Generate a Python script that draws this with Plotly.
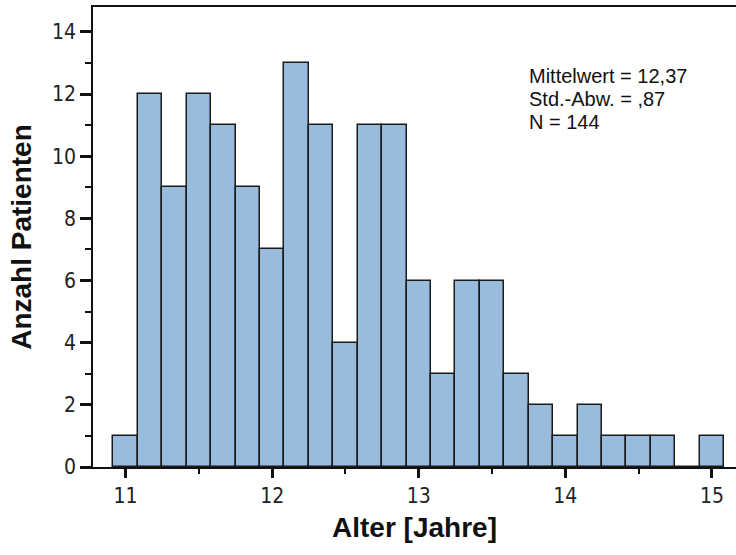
import plotly.graph_objects as go

# Data
bin_start = 11.0          # centre of first bin (years)
bin_width = 1.0 / 6.0     # two-month bins
counts = [1, 12, 9, 12, 11, 9, 7, 13, 11, 4, 11, 11, 6, 3, 6, 6, 3, 2, 1, 2, 1, 1, 1, 0, 1]
x_tick_vals = [11, 12, 13, 14, 15]
y_tick_vals = [0, 2, 4, 6, 8, 10, 12, 14]
stats_text = ["Mittelwert = 12,37", "Std.-Abw. = ,87", "N = 144"]

centers = [bin_start + i * bin_width for i in range(len(counts))]

fig = go.Figure()
fig.add_trace(go.Bar(
    x=centers, y=counts, width=bin_width,
    marker=dict(color="#99BCDD", line=dict(color="#1a1a1a", width=1.5)),
    hoverinfo="x+y", showlegend=False,
))

font_family = "Liberation Sans, Arial, sans-serif"
narrow_family = "Liberation Sans Narrow, DejaVu Sans Condensed, Liberation Sans, sans-serif"

ann = []
for i, line in enumerate(stats_text):
    ann.append(dict(
        text=line,
        xref="paper", yref="paper", x=(527 - 93) / 643, y=1 - (63 + 23 * i - 7) / 460,
        xanchor="left", yanchor="top", align="left", showarrow=False,
        font=dict(size=20, color="#111", family=font_family),
    ))

fig.update_layout(
    width=736, height=555,
    margin=dict(l=93, r=0, t=7, b=88),
    paper_bgcolor="white", plot_bgcolor="white",
    bargap=0,
    font=dict(family=font_family, color="#222222", size=16),
    xaxis=dict(
        range=[10.778, 15.164],
        tickvals=x_tick_vals,
        ticks="outside", ticklen=9, tickwidth=2.5, tickcolor="#111",
        minor=dict(tickvals=[11.5, 12.5, 13.5, 14.5], ticks="outside",
                   ticklen=5, tickwidth=1.5, tickcolor="#111"),
        showline=True, linecolor="#111", linewidth=1.5, mirror=True,
        showgrid=False, zeroline=False,
        tickfont=dict(size=21, family=narrow_family, color="#222"),
        title=dict(text="<b>Alter [Jahre]</b>", font=dict(size=28, color="#111", family=font_family), standoff=10),
    ),
    yaxis=dict(
        range=[0, 14.8],
        tickvals=y_tick_vals,
        ticks="outside", ticklen=11, tickwidth=2.5, tickcolor="#111",
        minor=dict(dtick=1, tick0=0, ticks="outside", ticklen=6, tickwidth=1.5, tickcolor="#111"),
        showline=True, linecolor="#111", linewidth=1.5,
        showgrid=False, zeroline=False,
        tickfont=dict(size=21, family=narrow_family, color="#222"),
        title=dict(text="<b>Anzahl Patienten</b>", font=dict(size=28, color="#111", family=font_family), standoff=12),
    ),
    annotations=ann,
)

fig.write_html("out.html")
